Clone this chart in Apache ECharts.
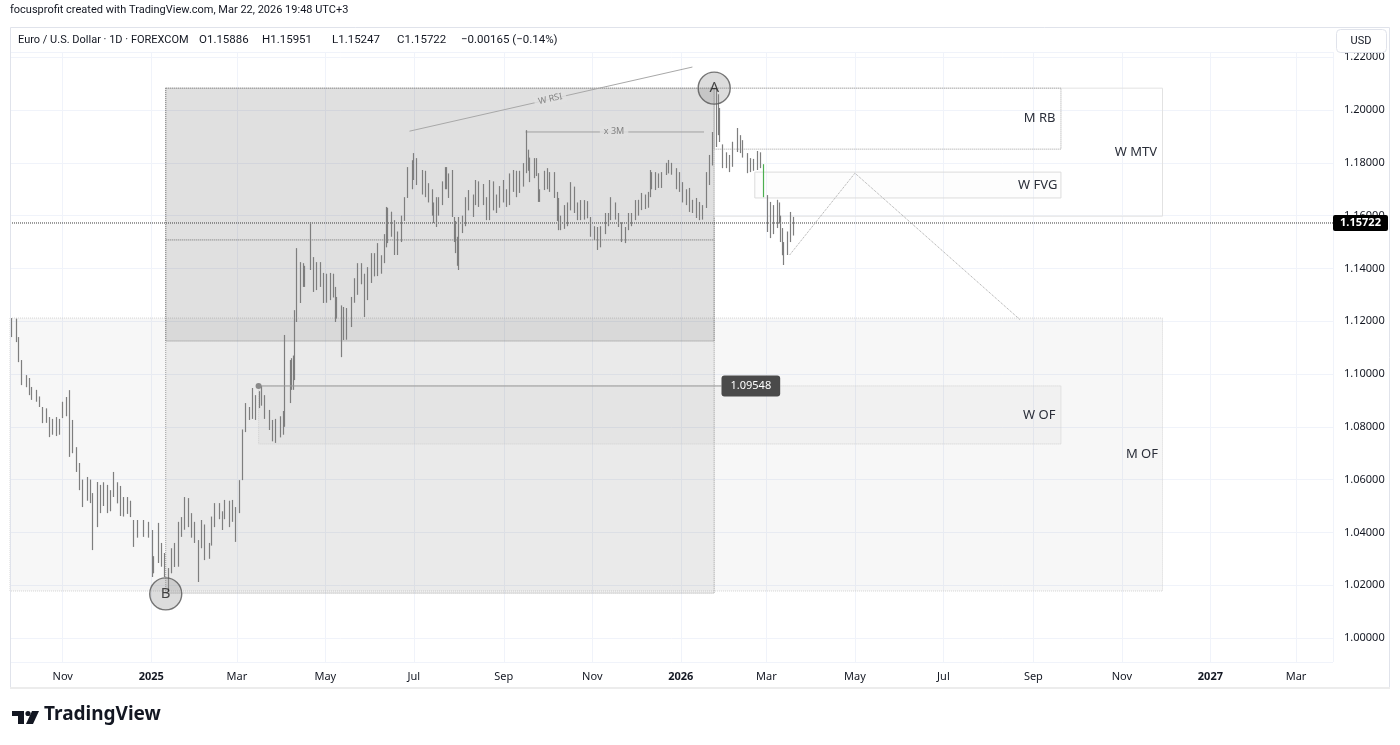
<!DOCTYPE html>
<html>
<head>
<meta charset="utf-8">
<script src="https://cdn.jsdelivr.net/npm/echarts@6/dist/echarts.min.js"></script>
<style>
  html, body { margin: 0; background: #fff; }
  #chart { width: 1400px; height: 745px; }
</style>
</head>
<body>
<div id="chart"></div>
<script>
// daily EURUSD bars (not every session)
const days = [
  '2024-09-27','2024-09-30','2024-10-02','2024-10-04','2024-10-07','2024-10-09','2024-10-11','2024-10-14','2024-10-16','2024-10-18',
  '2024-10-21','2024-10-23','2024-10-25','2024-10-28','2024-10-30','2024-11-01','2024-11-04','2024-11-06','2024-11-08','2024-11-11',
  '2024-11-13','2024-11-15','2024-11-18','2024-11-20','2024-11-22','2024-11-25','2024-11-27','2024-11-29','2024-12-02','2024-12-04',
  '2024-12-06','2024-12-09','2024-12-11','2024-12-13','2024-12-16','2024-12-18','2024-12-20','2024-12-23','2024-12-27','2024-12-30',
  '2025-01-02','2025-01-03','2025-01-06','2025-01-08','2025-01-10','2025-01-13','2025-01-15','2025-01-17','2025-01-20','2025-01-22',
  '2025-01-24','2025-01-27','2025-01-29','2025-01-31','2025-02-03','2025-02-05','2025-02-07','2025-02-10','2025-02-12','2025-02-14',
  '2025-02-17','2025-02-19','2025-02-21','2025-02-24','2025-02-26','2025-02-28','2025-03-03','2025-03-05','2025-03-07','2025-03-10',
  '2025-03-12','2025-03-14','2025-03-17','2025-03-18','2025-03-20','2025-03-24','2025-03-26','2025-03-28','2025-03-31','2025-04-02',
  '2025-04-03','2025-04-07','2025-04-08','2025-04-09','2025-04-10','2025-04-11','2025-04-14','2025-04-16','2025-04-17','2025-04-21',
  '2025-04-23','2025-04-25','2025-04-28','2025-04-30','2025-05-02','2025-05-05','2025-05-07','2025-05-08','2025-05-09','2025-05-12',
  '2025-05-14','2025-05-16','2025-05-19','2025-05-21','2025-05-23','2025-05-26','2025-05-28','2025-05-30','2025-06-02','2025-06-04',
  '2025-06-06','2025-06-09','2025-06-11','2025-06-12','2025-06-13','2025-06-16','2025-06-18','2025-06-20','2025-06-23','2025-06-25',
  '2025-06-27','2025-06-30','2025-07-01','2025-07-03','2025-07-07','2025-07-09','2025-07-11','2025-07-14','2025-07-15','2025-07-17',
  '2025-07-18','2025-07-21','2025-07-23','2025-07-24','2025-07-25','2025-07-28','2025-07-29','2025-07-30','2025-07-31','2025-08-01',
  '2025-08-04','2025-08-06','2025-08-08','2025-08-11','2025-08-13','2025-08-15','2025-08-18','2025-08-20','2025-08-22','2025-08-25',
  '2025-08-27','2025-08-29','2025-09-01','2025-09-03','2025-09-05','2025-09-08','2025-09-10','2025-09-12','2025-09-15','2025-09-17',
  '2025-09-18','2025-09-19','2025-09-22','2025-09-24','2025-09-25','2025-09-26','2025-09-29','2025-10-01','2025-10-03','2025-10-06',
  '2025-10-08','2025-10-09','2025-10-10','2025-10-13','2025-10-15','2025-10-17','2025-10-20','2025-10-22','2025-10-24','2025-10-27',
  '2025-10-29','2025-10-31','2025-11-03','2025-11-05','2025-11-07','2025-11-10','2025-11-12','2025-11-14','2025-11-17','2025-11-19',
  '2025-11-21','2025-11-24','2025-11-26','2025-11-28','2025-12-01','2025-12-03','2025-12-05','2025-12-08','2025-12-10','2025-12-11',
  '2025-12-12','2025-12-15','2025-12-17','2025-12-19','2025-12-22','2025-12-24','2025-12-26','2025-12-29','2025-12-31','2026-01-02',
  '2026-01-05','2026-01-07','2026-01-09','2026-01-12','2026-01-14','2026-01-16','2026-01-19','2026-01-21','2026-01-23','2026-01-26',
  '2026-01-27','2026-01-28','2026-01-30','2026-02-02','2026-02-04','2026-02-06','2026-02-09','2026-02-11','2026-02-13','2026-02-16',
  '2026-02-18','2026-02-20','2026-02-23','2026-02-25','2026-02-27','2026-03-02','2026-03-04','2026-03-06','2026-03-09','2026-03-10',
  '2026-03-11','2026-03-12','2026-03-13','2026-03-16','2026-03-18','2026-03-20'
];
// [open, high, low, close]
const bars = [
  [1.1160,1.1212,1.1140,1.1165],[1.1165,1.1210,1.1121,1.1135],[1.1135,1.1140,1.1045,1.1065],[1.1030,1.1053,1.0958,1.0975],[1.0975,1.0996,1.0950,1.0975],
  [1.0975,1.0985,1.0920,1.0940],[1.0940,1.0951,1.0902,1.0935],[1.0935,1.0940,1.0895,1.0905],[1.0905,1.0915,1.0875,1.0890],[1.0860,1.0875,1.0814,1.0865],
  [1.0865,1.0870,1.0815,1.0820],[1.0820,1.0837,1.0761,1.0780],[1.0790,1.0830,1.0770,1.0795],[1.0795,1.0837,1.0765,1.0815],[1.0815,1.0830,1.0770,1.0820],
  [1.0850,1.0895,1.0833,1.0835],[1.0850,1.0913,1.0840,1.0880],[1.0930,1.0939,1.0686,1.0730],[1.0780,1.0826,1.0700,1.0720],[1.0720,1.0723,1.0629,1.0655],
  [1.0655,1.0663,1.0560,1.0565],[1.0565,1.0600,1.0496,1.0540],[1.0540,1.0610,1.0520,1.0595],[1.0595,1.0600,1.0511,1.0545],[1.0480,1.0549,1.0333,1.0420],
  [1.0420,1.0591,1.0420,1.0495],[1.0495,1.0580,1.0473,1.0565],[1.0565,1.0590,1.0500,1.0580],[1.0540,1.0580,1.0473,1.0500],[1.0500,1.0560,1.0480,1.0510],
  [1.0560,1.0629,1.0534,1.0565],[1.0565,1.0590,1.0510,1.0525],[1.0525,1.0576,1.0462,1.0500],[1.0500,1.0534,1.0460,1.0505],[1.0505,1.0534,1.0470,1.0490],
  [1.0490,1.0520,1.0458,1.0470],[1.0420,1.0447,1.0345,1.0425],[1.0425,1.0447,1.0380,1.0400],[1.0400,1.0447,1.0383,1.0425],[1.0425,1.0440,1.0380,1.0390],
  [1.0390,1.0409,1.0231,1.0265],[1.0265,1.0310,1.0245,1.0305],[1.0305,1.0436,1.0284,1.0390],[1.0350,1.0360,1.0270,1.0290],[1.0290,1.0322,1.0231,1.0245],
  [1.0245,1.0265,1.0178,1.0245],[1.0260,1.0340,1.0245,1.0300],[1.0300,1.0360,1.0269,1.0275],[1.0275,1.0440,1.0270,1.0420],[1.0420,1.0458,1.0383,1.0410],
  [1.0420,1.0534,1.0410,1.0495],[1.0495,1.0530,1.0420,1.0440],[1.0440,1.0473,1.0380,1.0420],[1.0420,1.0440,1.0360,1.0365],[1.0240,1.0371,1.0212,1.0350],
  [1.0350,1.0447,1.0340,1.0400],[1.0400,1.0430,1.0295,1.0330],[1.0330,1.0360,1.0300,1.0310],[1.0360,1.0460,1.0350,1.0385],[1.0440,1.0511,1.0420,1.0495],
  [1.0495,1.0511,1.0450,1.0480],[1.0450,1.0480,1.0409,1.0425],[1.0500,1.0523,1.0450,1.0460],[1.0460,1.0520,1.0420,1.0470],[1.0485,1.0523,1.0440,1.0485],
  [1.0480,1.0496,1.0364,1.0380],[1.0480,1.0598,1.0473,1.0590],[1.0600,1.0790,1.0598,1.0780],[1.0785,1.0890,1.0780,1.0835],[1.0835,1.0875,1.0826,1.0835],
  [1.0835,1.0947,1.0830,1.0890],[1.0890,1.0920,1.0826,1.0880],[1.0880,1.0935,1.0871,1.0925],[1.0925,1.0955,1.0880,1.0940],[1.0900,1.0920,1.0830,1.0850],
  [1.0850,1.0864,1.0788,1.0800],[1.0800,1.0826,1.0745,1.0755],[1.0790,1.0830,1.0739,1.0820],[1.0820,1.0840,1.0760,1.0800],[1.0790,1.0860,1.0770,1.0850],
  [1.0850,1.1148,1.0800,1.1045],[1.0960,1.1053,1.0890,1.0910],[1.0950,1.1060,1.0940,1.0960],[1.0960,1.1070,1.0940,1.0965],[1.0980,1.1242,1.0977,1.1195],
  [1.1200,1.1477,1.1197,1.1360],[1.1360,1.1424,1.1269,1.1350],[1.1340,1.1420,1.1330,1.1400],[1.1390,1.1410,1.1330,1.1365],[1.1400,1.1576,1.1394,1.1515],
  [1.1390,1.1443,1.1311,1.1320],[1.1380,1.1424,1.1318,1.1360],[1.1360,1.1424,1.1330,1.1390],[1.1360,1.1383,1.1269,1.1310],[1.1310,1.1380,1.1270,1.1300],
  [1.1300,1.1383,1.1280,1.1315],[1.1315,1.1380,1.1290,1.1300],[1.1300,1.1330,1.1197,1.1230],[1.1230,1.1292,1.1210,1.1250],[1.1250,1.1260,1.1064,1.1090],
  [1.1170,1.1254,1.1129,1.1175],[1.1175,1.1250,1.1130,1.1165],[1.1180,1.1292,1.1178,1.1280],[1.1290,1.1363,1.1270,1.1330],[1.1320,1.1420,1.1300,1.1365],
  [1.1365,1.1420,1.1340,1.1385],[1.1330,1.1380,1.1216,1.1290],[1.1290,1.1405,1.1280,1.1350],[1.1350,1.1458,1.1345,1.1445],[1.1445,1.1458,1.1370,1.1420],
  [1.1430,1.1496,1.1371,1.1400],[1.1400,1.1450,1.1380,1.1420],[1.1420,1.1530,1.1420,1.1485],[1.1485,1.1633,1.1480,1.1585],[1.1580,1.1630,1.1496,1.1550],
  [1.1550,1.1615,1.1520,1.1560],[1.1480,1.1583,1.1451,1.1480],[1.1480,1.1540,1.1451,1.1525],[1.1520,1.1600,1.1500,1.1580],[1.1590,1.1670,1.1580,1.1620],
  [1.1700,1.1784,1.1667,1.1720],[1.1720,1.1810,1.1700,1.1785],[1.1785,1.1837,1.1735,1.1800],[1.1800,1.1818,1.1716,1.1760],[1.1760,1.1773,1.1680,1.1710],
  [1.1720,1.1770,1.1670,1.1725],[1.1700,1.1723,1.1650,1.1690],[1.1680,1.1700,1.1600,1.1620],[1.1620,1.1650,1.1572,1.1600],[1.1620,1.1670,1.1557,1.1640],
  [1.1640,1.1670,1.1600,1.1625],[1.1645,1.1730,1.1640,1.1710],[1.1710,1.1784,1.1700,1.1760],[1.1760,1.1784,1.1700,1.1720],[1.1720,1.1760,1.1667,1.1700],
  [1.1760,1.1773,1.1595,1.1600],[1.1590,1.1595,1.1500,1.1540],[1.1540,1.1580,1.1458,1.1470],[1.1470,1.1520,1.1410,1.1430],[1.1410,1.1595,1.1394,1.1585],
  [1.1560,1.1600,1.1534,1.1570],[1.1575,1.1670,1.1560,1.1660],[1.1660,1.1697,1.1620,1.1640],[1.1640,1.1680,1.1595,1.1615],[1.1675,1.1735,1.1640,1.1705],
  [1.1700,1.1730,1.1633,1.1700],[1.1700,1.1720,1.1640,1.1660],[1.1650,1.1670,1.1583,1.1650],[1.1600,1.1735,1.1583,1.1720],[1.1720,1.1730,1.1620,1.1625],
  [1.1620,1.1680,1.1610,1.1640],[1.1680,1.1712,1.1630,1.1690],[1.1690,1.1735,1.1650,1.1710],[1.1650,1.1700,1.1633,1.1660],[1.1660,1.1760,1.1640,1.1715],
  [1.1715,1.1773,1.1690,1.1760],[1.1740,1.1770,1.1670,1.1700],[1.1700,1.1770,1.1686,1.1730],[1.1730,1.1799,1.1710,1.1760],[1.1765,1.1924,1.1761,1.1800],
  [1.1800,1.1850,1.1770,1.1790],[1.1790,1.1820,1.1727,1.1745],[1.1745,1.1818,1.1742,1.1800],[1.1800,1.1818,1.1750,1.1760],[1.1760,1.1761,1.1652,1.1670],
  [1.1670,1.1700,1.1652,1.1690],[1.1700,1.1770,1.1697,1.1740],[1.1740,1.1780,1.1700,1.1720],[1.1720,1.1765,1.1690,1.1740],[1.1740,1.1765,1.1667,1.1680],
  [1.1680,1.1690,1.1580,1.1600],[1.1600,1.1667,1.1545,1.1560],[1.1560,1.1600,1.1545,1.1570],[1.1570,1.1640,1.1550,1.1600],[1.1600,1.1650,1.1560,1.1640],
  [1.1640,1.1727,1.1620,1.1690],[1.1690,1.1710,1.1610,1.1640],[1.1640,1.1650,1.1583,1.1610],[1.1610,1.1659,1.1583,1.1620],[1.1620,1.1659,1.1585,1.1640],
  [1.1640,1.1655,1.1590,1.1600],[1.1580,1.1595,1.1520,1.1535],[1.1535,1.1560,1.1508,1.1520],[1.1520,1.1557,1.1470,1.1490],[1.1490,1.1560,1.1480,1.1550],
  [1.1550,1.1610,1.1530,1.1580],[1.1580,1.1610,1.1560,1.1590],[1.1600,1.1670,1.1583,1.1620],[1.1620,1.1650,1.1585,1.1600],[1.1600,1.1610,1.1557,1.1570],
  [1.1560,1.1575,1.1500,1.1510],[1.1510,1.1557,1.1496,1.1540],[1.1550,1.1610,1.1545,1.1590],[1.1590,1.1610,1.1560,1.1595],[1.1600,1.1659,1.1583,1.1630],
  [1.1630,1.1660,1.1600,1.1650],[1.1650,1.1686,1.1621,1.1645],[1.1645,1.1680,1.1625,1.1640],[1.1640,1.1690,1.1630,1.1680],[1.1680,1.1773,1.1670,1.1740],
  [1.1740,1.1765,1.1700,1.1730],[1.1730,1.1765,1.1697,1.1750],[1.1750,1.1760,1.1705,1.1720],[1.1720,1.1765,1.1705,1.1760],[1.1760,1.1800,1.1754,1.1790],
  [1.1790,1.1811,1.1760,1.1775],[1.1775,1.1800,1.1755,1.1770],[1.1770,1.1780,1.1700,1.1735],[1.1735,1.1765,1.1690,1.1710],[1.1710,1.1727,1.1650,1.1680],
  [1.1680,1.1700,1.1640,1.1660],[1.1660,1.1705,1.1614,1.1640],[1.1640,1.1660,1.1610,1.1620],[1.1620,1.1667,1.1591,1.1610],[1.1610,1.1652,1.1583,1.1600],
  [1.1600,1.1640,1.1585,1.1610],[1.1630,1.1765,1.1629,1.1740],[1.1740,1.1830,1.1716,1.1800],[1.1800,1.1917,1.1790,1.1880],[1.1880,1.2083,1.1860,1.1990],
  [1.1990,1.2060,1.1905,1.1960],[1.1960,1.2008,1.1879,1.1900],[1.1850,1.1870,1.1780,1.1800],[1.1800,1.1840,1.1780,1.1820],[1.1820,1.1830,1.1765,1.1790],
  [1.1790,1.1880,1.1785,1.1860],[1.1860,1.1932,1.1841,1.1900],[1.1900,1.1905,1.1837,1.1860],[1.1860,1.1886,1.1820,1.1840],[1.1830,1.1837,1.1761,1.1790],
  [1.1790,1.1818,1.1765,1.1800],[1.1800,1.1815,1.1770,1.1790],[1.1790,1.1845,1.1773,1.1820],[1.1820,1.1840,1.1780,1.1800],[1.1780,1.1795,1.1670,1.1690],
  [1.1670,1.1678,1.1538,1.1560],[1.1560,1.1652,1.1515,1.1620],[1.1620,1.1640,1.1530,1.1560],[1.1560,1.1660,1.1553,1.1620],[1.1620,1.1650,1.1570,1.1590],
  [1.1590,1.1600,1.1500,1.1520],[1.1520,1.1553,1.1450,1.1470],[1.1470,1.1500,1.1413,1.1440],[1.1460,1.1540,1.1451,1.1520],[1.1520,1.1614,1.1500,1.1590],
  [1.15886,1.15951,1.15247,1.15722]
];
const lastBar = bars[bars.length - 1];
const greenDay = '2026-02-27';
const monthNames = ['Jan','Feb','Mar','Apr','May','Jun','Jul','Aug','Sep','Oct','Nov','Dec'];
const legendParts = ['Euro / U.S. Dollar · 1D · FOREXCOM', 'O' + lastBar[0].toFixed(5), 'H' + lastBar[1].toFixed(5), 'L' + lastBar[2].toFixed(5), 'C' + lastBar[3].toFixed(5), '−0.00165 (−0.14%)'];

// drawings on the chart, in date / price terms: [from, to, top, bottom]
const boxMOF = ['2024-09-20', '2026-11-29', 1.1212, 1.0178];
const boxAB = ['2025-01-11', '2026-01-24', 1.2083, 1.0170];
const boxABTop = ['2025-01-11', '2026-01-24', 1.2083, 1.1125];
const boxWOF = ['2025-03-16', '2026-09-20', 1.0955, 1.0735];
const boxFVG = ['2026-02-21', '2026-09-20', 1.1765, 1.1667];
const boxMTV = ['2026-01-24', '2026-11-29', 1.2083, 1.1598];
const boxMRB = ['2026-01-24', '2026-09-20', 1.2083, 1.1852];
const midLevel = ['2025-01-11', '2026-01-24', 1.1508];
const ofLevel = ['2025-03-16', '2026-01-29', 1.09548];
const threeMLevel = ['2025-09-16', '2026-01-17', 1.1917];
const rsiLine = [['2025-06-28', 1.1920], ['2026-01-09', 1.2163]];
const projection = [['2026-03-17', 1.1451], ['2026-05-01', 1.1761], ['2026-08-23', 1.1205]];
const pivots = [['A', '2026-01-24', 1.2083], ['B', '2025-01-11', 1.0167]];
const smallNotes = [['x 3M', '2025-11-16', 1.1920, 0], ['W RSI', '2025-10-03', 1.2042, 12.8]];

const ts = s => new Date(s + 'T00:00:00').getTime();
const xMin = new Date(2024, 8, 25, 16).getTime();
const xMax = new Date(2027, 2, 26, 12).getTime();
const FONT = '"Noto Sans", sans-serif';
const UI_FONT = 'Roboto, "Noto Sans", sans-serif';
const BAR = '#7e7e7e';
const GREEN = '#4caf50';

function zone(box, name, style, labelDist) {
  return [
    {
      name: name,
      xAxis: Math.max(ts(box[0]), xMin), yAxis: box[2],
      itemStyle: style,
      label: name ? { show: true, position: 'insideRight', distance: labelDist, color: '#2a2e39', fontSize: 13, fontFamily: FONT } : { show: false }
    },
    { xAxis: ts(box[1]), yAxis: box[3] }
  ];
}

const chart = echarts.init(document.getElementById('chart'));

const option = {
  animation: false,
  backgroundColor: '#ffffff',
  textStyle: { fontFamily: FONT },
  grid: { left: 10, right: 67, top: 52, bottom: 83 },
  xAxis: {
    type: 'time',
    min: xMin,
    max: xMax,
    splitNumber: 12,
    axisLine: { show: false },
    axisTick: { show: false },
    splitLine: { show: true, lineStyle: { color: '#f0f3fa', width: 1 } },
    axisLabel: {
      margin: 9,
      color: '#131722',
      fontSize: 11,
      formatter: function (val) {
        const d = new Date(val);
        const m = d.getMonth();
        return m === 0 ? '{y|' + d.getFullYear() + '}' : monthNames[m];
      },
      rich: { y: { fontWeight: 'bold', fontSize: 11, color: '#131722' } }
    }
  },
  yAxis: {
    type: 'value',
    position: 'right',
    min: 0.9909,
    max: 1.2220,
    splitNumber: 11,
    axisLine: { show: false },
    axisTick: { show: false },
    splitLine: { show: true, lineStyle: { color: '#f0f3fa', width: 1 } },
    axisLabel: {
      margin: 11,
      color: '#131722',
      fontSize: 11,
      showMinLabel: false,
      showMaxLabel: false,
      formatter: v => v.toFixed(5)
    }
  },
  series: [
    {
      name: 'zones',
      type: 'line',
      data: [],
      z: 1,
      silent: true,
      markArea: {
        silent: true,
        data: [
          zone(boxMOF, 'M OF', { color: 'rgba(0,0,0,0.03)', borderColor: '#d4d4d4', borderWidth: 1, borderType: 'dotted' }, 5),
          zone(boxAB, '', { color: 'rgba(0,0,0,0.05)', borderColor: '#9a9a9a', borderWidth: 1, borderType: 'dotted' }, 0),
          zone(boxABTop, '', { color: 'rgba(0,0,0,0.07)', borderColor: '#8a8a8a', borderWidth: 1, borderType: 'dotted' }, 0),
          zone(boxWOF, 'W OF', { color: 'rgba(0,0,0,0.025)', borderColor: '#cfcfcf', borderWidth: 1, borderType: 'dotted' }, 6),
          zone(boxFVG, 'W FVG', { color: 'rgba(0,0,0,0.006)', borderColor: '#dcdcdc', borderWidth: 1 }, 4),
          zone(boxMTV, 'W MTV', { color: 'rgba(0,0,0,0)', borderColor: '#e2e2e2', borderWidth: 1 }, 6),
          zone(boxMRB, 'M RB', { color: 'rgba(0,0,0,0)', borderColor: '#a0a0a0', borderWidth: 1, borderType: 'dotted' }, 6)
        ]
      }
    },
    {
      name: 'last price',
      type: 'line',
      z: 2,
      silent: true,
      symbol: 'none',
      lineStyle: { type: 'dotted', color: '#3a3a3a', width: 1 },
      data: [[xMin, lastBar[3]], [xMax, lastBar[3]]]
    },
    {
      name: 'mid',
      type: 'line',
      z: 2,
      silent: true,
      symbol: 'none',
      lineStyle: { type: 'dotted', color: '#6f6f6f', width: 1 },
      data: [[ts(midLevel[0]), midLevel[2]], [ts(midLevel[1]), midLevel[2]]]
    },
    {
      name: 'rsi',
      type: 'line',
      z: 2,
      silent: true,
      symbol: 'none',
      lineStyle: { color: '#a8a8a8', width: 1 },
      data: rsiLine.map(p => [ts(p[0]), p[1]])
    },
    {
      name: '3m',
      type: 'line',
      z: 2,
      silent: true,
      symbol: 'none',
      lineStyle: { color: '#a0a0a0', width: 1 },
      data: [[ts(threeMLevel[0]), threeMLevel[2]], [ts(threeMLevel[1]), threeMLevel[2]]]
    },
    {
      name: 'projection',
      type: 'line',
      z: 2,
      silent: true,
      symbol: 'none',
      lineStyle: { type: 'dotted', color: '#a5a5a5', width: 1 },
      data: projection.map(p => [ts(p[0]), p[1]])
    },
    {
      name: 'EURUSD',
      type: 'candlestick',
      z: 3,
      barWidth: 1.2,
      itemStyle: { color: BAR, color0: BAR, borderColor: BAR, borderColor0: BAR, borderWidth: 1.2 },
      data: days.map((d, i) => {
        const item = { value: [ts(d), bars[i][0], bars[i][3], bars[i][2], bars[i][1]] };
        if (d === greenDay) {
          item.itemStyle = { color: GREEN, color0: GREEN, borderColor: GREEN, borderColor0: GREEN };
        }
        return item;
      })
    },
    {
      name: 'of level',
      type: 'line',
      z: 4,
      silent: true,
      symbol: 'circle',
      lineStyle: { color: '#9a9a9a', width: 1 },
      itemStyle: { color: '#8a8a8a' },
      data: [
        { value: [ts(ofLevel[0]), ofLevel[2]], symbolSize: 6 },
        {
          value: [ts(ofLevel[1]), ofLevel[2]], symbolSize: 0.1,
          label: {
            show: true, position: 'right', distance: 0,
            formatter: () => ofLevel[2].toFixed(5),
            backgroundColor: '#4a4a4a', color: '#ffffff', fontSize: 11,
            padding: [5, 9, 5, 9], borderRadius: 3
          }
        }
      ]
    },
    {
      name: 'notes',
      type: 'scatter',
      z: 5,
      silent: true,
      symbolSize: 1,
      itemStyle: { color: 'rgba(0,0,0,0)' },
      data: smallNotes.map(n => ({
        value: [ts(n[1]), n[2]],
        label: {
          show: true, position: 'inside', formatter: n[0], rotate: n[3],
          color: '#6a6a6a', fontSize: 9, backgroundColor: '#e1e1e1', padding: [1, 4]
        }
      }))
    },
    {
      name: 'pivots',
      type: 'scatter',
      z: 6,
      silent: true,
      symbolSize: 32,
      itemStyle: { color: 'rgba(140,140,140,0.38)', borderColor: '#555555', borderWidth: 1.4 },
      label: { show: true, position: 'inside', formatter: p => p.name, color: '#1e1e1e', fontSize: 15 },
      data: pivots.map(p => ({ name: p[0], value: [ts(p[1]), p[2]] }))
    }
  ]
};

chart.setOption(option);

// header, legend, price tag for the last close and the logo
const py = chart.convertToPixel({ yAxisIndex: 0 }, lastBar[3]);
const legendX = [18, 199, 262, 332, 397, 461];
const overlay = [
  { type: 'text', left: 10, top: 5, z: 50, style: { text: 'focusprofit created with TradingView.com, Mar 22, 2026 19:48 UTC+3', font: '11px ' + UI_FONT, fill: '#131722' } },
  { type: 'rect', z: 50, silent: true, shape: { x: 10.5, y: 27.5, width: 1379, height: 660 }, style: { fill: 'none', stroke: '#e0e3eb', lineWidth: 1 } },
  { type: 'rect', z: 50, silent: true, shape: { x: 10, y: 687, width: 1380, height: 2 }, style: { fill: '#ececec' } },
  { type: 'rect', z: 50, shape: { x: 1336.5, y: 29.5, width: 50, height: 23, r: 4 }, style: { fill: '#ffffff', stroke: '#e0e3eb' } },
  { type: 'text', z: 51, x: 1361, y: 41, style: { text: 'USD', font: '11px ' + UI_FONT, fill: '#131722', align: 'center', verticalAlign: 'middle' } },
  { type: 'rect', z: 50, shape: { x: 1333, y: py - 8, width: 55, height: 16, r: 2 }, style: { fill: '#000000' } },
  { type: 'text', z: 51, x: 1360.5, y: py, style: { text: lastBar[3].toFixed(5), font: 'bold 11px ' + FONT, fill: '#ffffff', align: 'center', verticalAlign: 'middle' } },
  // TradingView mark
  { type: 'rect', z: 50, shape: { x: 12, y: 711, width: 12, height: 5 }, style: { fill: '#131722' } },
  { type: 'rect', z: 50, shape: { x: 18, y: 711, width: 6, height: 13 }, style: { fill: '#131722' } },
  { type: 'circle', z: 50, shape: { cx: 28, cy: 713.5, r: 2.6 }, style: { fill: '#131722' } },
  { type: 'polygon', z: 50, shape: { points: [[32, 711], [39, 711], [33, 724], [26, 724]] }, style: { fill: '#131722' } },
  { type: 'text', z: 50, left: 44, top: 705, style: { text: 'TradingView', font: 'bold 19px ' + FONT, fill: '#131722' } }
];
legendParts.forEach((t, i) => {
  overlay.push({ type: 'text', z: 50, x: legendX[i], y: 40, style: { text: t, font: (i === 0 ? '11px ' : '11.5px ') + UI_FONT, fill: '#131722', verticalAlign: 'middle' } });
});
chart.setOption({ graphic: overlay });
</script>
</body>
</html>
